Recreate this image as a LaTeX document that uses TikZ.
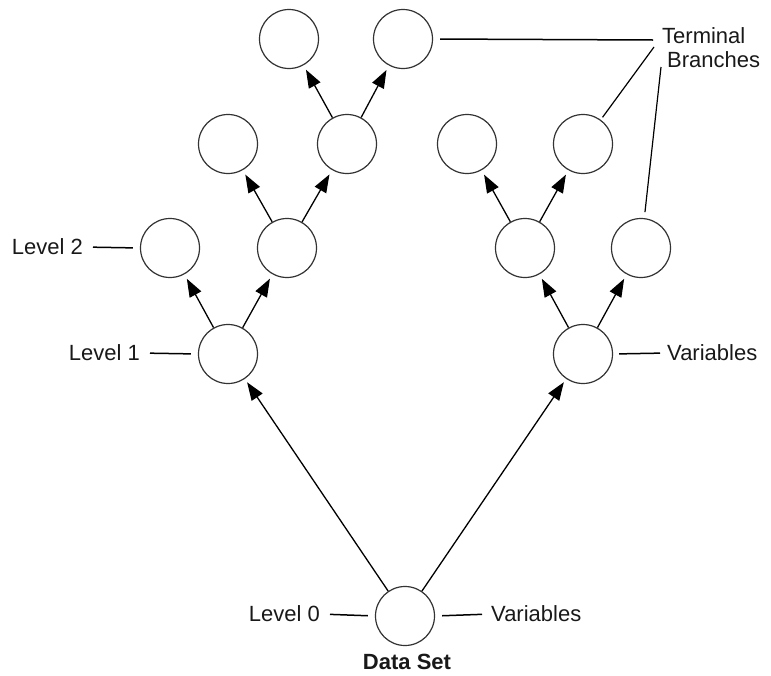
\documentclass[tikz,border=0pt]{standalone}
\usepackage{fontspec}
\setmainfont{Liberation Sans}
\usetikzlibrary{arrows.meta}
\begin{document}
\begin{tikzpicture}[x=1pt,y=-1pt,
  vnode/.style={circle,draw=black!80,line width=1.2pt,minimum size=59pt,inner sep=0pt},
  arr/.style={line width=1.3pt,-{Triangle[length=18pt,width=13pt]},shorten >=5pt},
  lbl/.style={font=\fontsize{22}{26}\selectfont,text=black!90,inner sep=0pt},
  tick/.style={line width=1.5pt},
  lead/.style={line width=1.2pt}]
\useasboundingbox (0,0) rectangle (771,675);
% nodes
\node[vnode] (r)   at (405,616) {};
\node[vnode] (a1)  at (228,354) {};
\node[vnode] (b1)  at (583,354) {};
\node[vnode] (a2)  at (170,248) {};
\node[vnode] (a3)  at (287,248) {};
\node[vnode] (b2)  at (525,248) {};
\node[vnode] (b3)  at (641,248) {};
\node[vnode] (c1)  at (228,144) {};
\node[vnode] (c2)  at (347,144) {};
\node[vnode] (d1)  at (467,144) {};
\node[vnode] (d2)  at (583,144) {};
\node[vnode] (e1)  at (289,39) {};
\node[vnode] (e2)  at (403,39) {};
% arrows
\draw[arr,shorten >=4pt] (r) -- (a1);
\draw[arr,shorten >=4pt] (r) -- (b1);
\draw[arr] (a1) -- (a2);
\draw[arr] (a1) -- (a3);
\draw[arr] (a3) -- (c1);
\draw[arr] (a3) -- (c2);
\draw[arr] (c2) -- (e1);
\draw[arr] (c2) -- (e2);
\draw[arr] (b1) -- (b2);
\draw[arr] (b1) -- (b3);
\draw[arr] (b2) -- (d1);
\draw[arr] (b2) -- (d2);
% labels
\node[lbl,anchor=east] (l0) at (320,614) {Level 0};
\node[lbl,anchor=west] (v0) at (491,614) {Variables};
\node[lbl,font=\bfseries\fontsize{22}{26}\selectfont] (ds) at (407,662) {Data Set};
\node[lbl,anchor=east] (l1) at (140,353) {Level 1};
\node[lbl,anchor=west] (v1) at (667,353) {Variables};
\node[lbl,anchor=east] (l2) at (83,247) {Level 2};
\node[lbl,anchor=west] (tt) at (662,36) {Terminal};
\node[lbl,anchor=west] (tb) at (667,60) {Branches};
% label ticks
\draw[tick,shorten <=10pt,shorten >=7pt] (l0.east) -- (r.west);
\draw[tick,shorten <=7pt,shorten >=9pt] (r.east) -- (v0.west);
\draw[tick,shorten <=10pt,shorten >=7pt] (l1.east) -- (a1.west);
\draw[tick,shorten <=6pt,shorten >=7pt] (b1.east) -- (v1.west);
\draw[tick,shorten <=10pt,shorten >=7pt] (l2.east) -- (a2.west);
% terminal leaders
\coordinate (p1) at (653,40);
\coordinate (p2) at (654,47);
\coordinate (p3) at (661,67);
\draw[tick,shorten <=7pt] (e2.east) -- (p1);
\draw[lead,shorten >=3pt] (p2) -- (d2);
\draw[lead,shorten >=6pt] (p3) -- (b3);
\end{tikzpicture}
\end{document}
